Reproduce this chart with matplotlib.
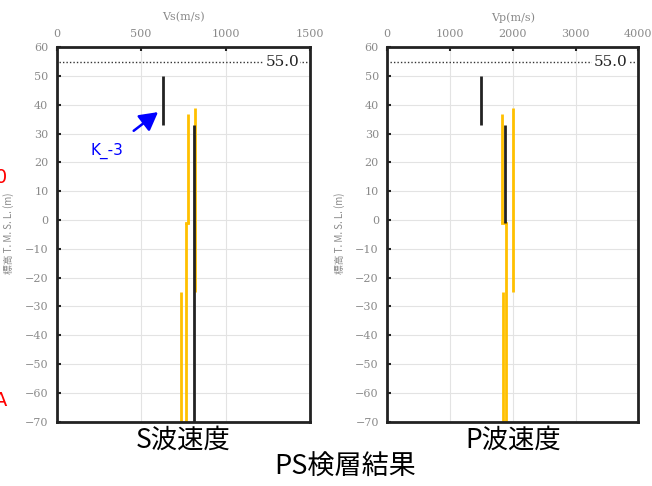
import matplotlib
matplotlib.use("Agg")
import matplotlib.pyplot as plt

# --- data (elevation in m, velocity in m/s) ---
elev_ticks = list(range(-70, 61, 10))
gl_level = 55.0

# S wave: (velocity, top elevation, bottom elevation)
vs_black = [(630, 50, 33), (810, 33, -70)]
vs_yellow = [(780, 37, -1), (767, -1, -70), (820, 39, -25), (736, -25, -70)]
vs_steps = [(780, 767, -1)]
vs_ticks = [0, 500, 1000, 1500]

# P wave
vp_black = [(1490, 50, 33), (1880, 33, -1)]
vp_yellow = [(1835, 37, -1), (1890, -1, -70), (2010, 39, -25), (1850, -25, -70)]
vp_steps = [(1835, 1890, -1)]
vp_ticks = [0, 1000, 2000, 3000, 4000]

YELLOW = "#FFC000"
GRAY = "#8a8a8a"
JP = ["Noto Sans CJK JP", "DejaVu Sans"]

fig = plt.figure(figsize=(6.52, 4.86), dpi=100)


def panel(rect, black, yellow, steps, xticks, xlabel, title, label_x):
    ax = fig.add_axes(rect)
    ax.set_xlim(xticks[0], xticks[-1])
    ax.set_ylim(-70, 60)
    ax.set_xticks(xticks)
    ax.set_yticks(elev_ticks)
    ax.xaxis.tick_top()
    ax.xaxis.set_label_position("top")
    ax.tick_params(direction="in", length=3, width=1.5, color="#222222",
                   labelsize=8, labelcolor=GRAY, pad=6)
    for lab in ax.get_xticklabels() + ax.get_yticklabels():
        lab.set_family("DejaVu Serif")
    ax.set_xlabel(xlabel, family="DejaVu Serif", fontsize=8, color=GRAY, labelpad=6)
    ax.grid(True, color="#e3e3e3", lw=0.8)
    ax.set_axisbelow(True)
    for sp in ax.spines.values():
        sp.set_linewidth(2)
        sp.set_color("#222222")

    for v, top, bot in yellow:
        ax.plot([v, v], [top, bot], color=YELLOW, lw=2, solid_capstyle="butt")
    for v1, v2, y in steps:
        ax.plot([v1, v2], [y, y], color=YELLOW, lw=2)
    for v, top, bot in black:
        ax.plot([v, v], [top, bot], color="#222222", lw=2, solid_capstyle="butt")

    xr = xticks[-1] - xticks[0]
    ax.plot([xticks[0] + 0.01 * xr, xticks[-1] - 0.01 * xr], [gl_level, gl_level],
            ls=(0, (1, 1.5)), color="#333333", lw=1)
    ax.text(xticks[0] + 0.89 * xr, gl_level, "55.0", family="DejaVu Serif",
            fontsize=11, ha="center", va="center", color="#222222",
            bbox=dict(facecolor="white", edgecolor="none", pad=1))

    fig.text(label_x, 0.52, "標高 T. M. S. L. (m)", rotation=90, fontsize=7,
             color=GRAY, family=JP, ha="center", va="center")
    fig.text(rect[0] + rect[2] / 2, 0.094, title, fontsize=19, family=JP,
             ha="center", va="center")
    return ax


ax1 = panel([0.087, 0.1323, 0.3885, 0.7704], vs_black, vs_yellow, vs_steps,
            vs_ticks, "Vs(m/s)", "S波速度", 0.013)
ax2 = panel([0.594, 0.1323, 0.385, 0.7704], vp_black, vp_yellow, vp_steps,
            vp_ticks, "Vp(m/s)", "P波速度", 0.52)

ax1.annotate("K_-3", xy=(600, 37.5), xytext=(300, 24), color="#0000ff",
             fontsize=11, ha="center", va="center",
             arrowprops=dict(arrowstyle="-|>,head_length=1.0,head_width=0.55",
                             color="#0000ff", lw=1.8, shrinkA=11, shrinkB=0))

fig.text(0.53, 0.038, "PS検層結果", fontsize=19.5, family=JP, ha="center", va="center")

# cropped red marks at the left edge (the source image is cut off there)
fig.text(-0.008, 0.635, "0", color="red", fontsize=14, ha="left", va="center")
fig.text(-0.01, 0.175, "A", color="red", fontsize=14, ha="left", va="center")

fig.savefig("out.png", dpi=100)
